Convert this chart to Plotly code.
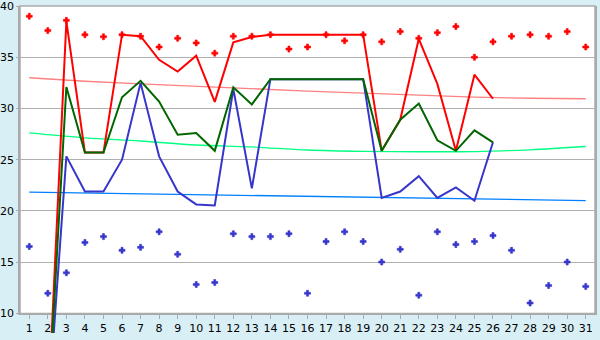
import plotly.graph_objects as go

days = list(range(1, 32))

red_dots = [39.0, 37.6, 38.6, 37.2, 37.0, 37.2, 37.05, 36.0, 36.85, 36.4,
            35.4, 37.05, 37.05, 37.2, 35.8, 36.0, 37.2, 36.6, 37.2, 36.5,
            37.5, 36.85, 37.4, 38.0, 35.0, 36.5, 37.05, 37.2, 37.05, 37.5, 36.0]
blue_dots = [16.54, 11.97, 13.97, 16.93, 17.5, 16.16, 16.45, 17.97, 15.78, 12.83,
             13.02, 17.78, 17.5, 17.5, 17.78, 11.97, 17.02, 17.97, 17.02, 15.02,
             16.26, 11.78, 17.97, 16.73, 17.02, 17.6, 16.16, 11.02, 12.73, 15.02, 12.64]

line_days = list(range(2, 27))
red_line = [0, 38.5, 25.7, 25.7, 37.2, 37.05, 34.75, 33.6, 35.15, 30.65,
            36.45, 36.98, 37.2, 37.2, 37.2, 37.2, 37.2, 37.2, 25.87, 28.9,
            36.8, 32.4, 25.87, 33.3, 30.95]
green_line = [0, 32.1, 25.7, 25.7, 31.1, 32.7, 30.67, 27.45, 27.6, 25.87,
              32.06, 30.4, 32.86, 32.86, 32.86, 32.86, 32.86, 32.86, 25.87, 28.9,
              30.48, 26.9, 25.87, 27.87, 26.7]
blue_line = [0, 25.33, 21.9, 21.9, 25.0, 32.5, 25.33, 21.9, 20.64, 20.54,
             31.9, 22.2, 32.86, 32.86, 32.86, 32.86, 32.86, 32.86, 21.27, 21.9,
             23.4, 21.27, 22.3, 21.0, 26.7]

trend_days = [1, 4, 7, 10, 13, 16, 19, 22, 25, 28, 31]
pink_trend = [33.0, 32.66, 32.4, 32.16, 31.9, 31.7, 31.5, 31.27, 31.1, 31.0, 30.95]
lgreen_trend = [27.62, 27.14, 26.83, 26.44, 26.25, 25.95, 25.82, 25.78, 25.8, 25.97, 26.29]
lblue_trend = [21.84, 21.76, 21.67, 21.59, 21.5, 21.4, 21.3, 21.22, 21.15, 21.08, 21.02]

Y_MIN, Y_MAX = 10, 40
H, TOP, BOTTOM_STRIP = 340, 5, 20
plot_h = H - TOP                      # full drawing height incl. bottom strip
axis_h = plot_h - BOTTOM_STRIP        # visible axis height
dom0 = BOTTOM_STRIP / plot_h
y2_min = Y_MIN - (Y_MAX - Y_MIN) * BOTTOM_STRIP / axis_h

fig = go.Figure()

fig.add_trace(go.Scatter(x=days, y=blue_dots, mode="markers",
                         marker=dict(symbol="cross", size=5, color="#3636cc",
                                     line=dict(width=0.6, color="#3636cc"))))
fig.add_trace(go.Scatter(x=days, y=red_dots, mode="markers",
                         marker=dict(symbol="cross", size=5, color="#ff0000",
                                     line=dict(width=0.6, color="#ff0000"))))

fig.add_trace(go.Scatter(x=trend_days, y=pink_trend, mode="lines", line=dict(color="#ff8080", width=1.3)))
fig.add_trace(go.Scatter(x=trend_days, y=lgreen_trend, mode="lines", line=dict(color="#00ff80", width=1.3, shape="spline")))
fig.add_trace(go.Scatter(x=trend_days, y=lblue_trend, mode="lines", line=dict(color="#0080ff", width=1.3)))

fig.add_trace(go.Scatter(x=line_days, y=red_line, mode="lines", line=dict(color="#ff0000", width=2), yaxis="y2"))
fig.add_trace(go.Scatter(x=line_days, y=blue_line, mode="lines", line=dict(color="#3636cc", width=2), yaxis="y2"))
fig.add_trace(go.Scatter(x=line_days, y=green_line, mode="lines", line=dict(color="#006600", width=2), yaxis="y2"))

fig.update_layout(
    width=600, height=340,
    margin=dict(l=20, r=5, t=TOP, b=0),
    paper_bgcolor="#d9eff6",
    plot_bgcolor="rgba(0,0,0,0)",
    showlegend=False,
    font=dict(family="DejaVu Sans", size=11, color="#000000"),
    shapes=[dict(type="rect", xref="paper", yref="paper", x0=0, x1=1, y0=dom0, y1=1,
                 fillcolor="#ffffff", line=dict(color="#aaaaaa", width=1.5), layer="below")],
    xaxis=dict(range=[0.5, 31.5], tickvals=days, showgrid=False, zeroline=False,
               showline=True, linecolor="#aaaaaa", linewidth=1.5,
               ticks="outside", ticklen=4, tickcolor="#aaaaaa", tickfont=dict(size=11),
               anchor="y"),
    yaxis=dict(range=[Y_MIN, Y_MAX], dtick=5, domain=[dom0, 1], showgrid=True,
               gridcolor="#b0b0b0", gridwidth=1, zeroline=False, showline=True, mirror=True,
               linecolor="#aaaaaa", linewidth=1.5, ticks="outside", ticklen=2,
               tickcolor="#aaaaaa", tickfont=dict(size=11), ticklabeloverflow="allow"),
    yaxis2=dict(range=[y2_min, Y_MAX], domain=[0, 1], anchor="x", visible=False,
                showgrid=False, zeroline=False),
)

fig.write_html("out.html")
